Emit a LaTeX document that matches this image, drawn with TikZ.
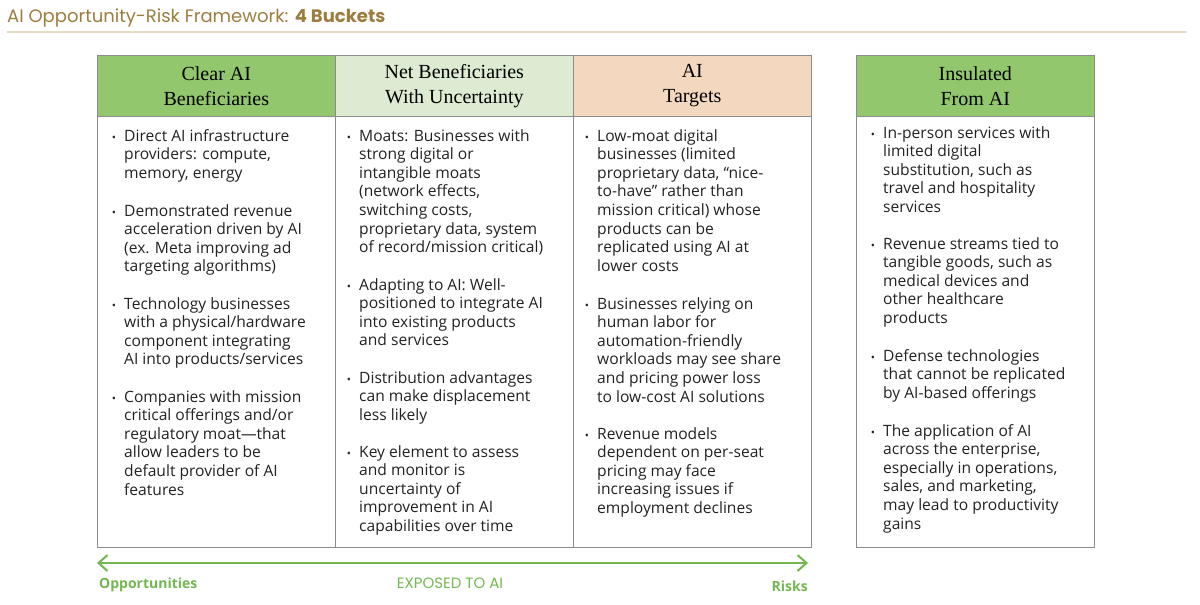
\documentclass[tikz,border=0pt]{standalone}
\usepackage{fontspec}
\setmainfont{Open Sans}
\newfontfamily\hdfont{Liberation Serif}
\newfontfamily\ttlfont{Poppins}
\usetikzlibrary{arrows.meta}
\definecolor{gA}{HTML}{93C76E}
\definecolor{gB}{HTML}{DEEBD3}
\definecolor{pC}{HTML}{F3D8BF}
\definecolor{arr}{HTML}{72B850}
\definecolor{gold}{HTML}{9C7D3E}
\definecolor{rule}{HTML}{E6DCC6}
\definecolor{txt}{HTML}{222222}
\tikzset{
 hd/.style={draw=black!45,line width=0.6pt,minimum width=238pt,minimum height=61pt,anchor=north west,align=center,font=\hdfont\fontsize{20}{25}\selectfont,inner sep=0pt},
 bd/.style={draw=black!45,line width=0.6pt,minimum width=238pt,anchor=north west,inner sep=0pt},
 bt/.style={anchor=north west,align=left,inner sep=0pt,text=txt,font=\fontsize{15.6}{18.6}\selectfont},
 bu/.style={anchor=center,inner sep=0pt,text=txt,font=\fontsize{11}{12}\selectfont}
}
\newcommand\bul[4]{\node[bu] (#1b) at (#2-10,#3+10) {\textbullet}; \node[bt] (#1) at (#2,#3) {#4};}
\begin{document}
\begin{tikzpicture}[x=1pt,y=-1pt]
\useasboundingbox (0,0) rectangle (1200,605);
\node[anchor=west,inner sep=0pt,text=gold,font=\ttlfont\fontsize{18}{20}\selectfont] (title) at (7,18) {AI Opportunity-Risk Framework: \textbf{4 Buckets}};
\draw[rule,line width=1.2pt] (7,32) -- (1187,32);
% bodies
\node[bd,minimum height=431pt] (b1) at (97,116) {};
\node[bd,minimum height=431pt] (b2) at (335,116) {};
\node[bd,minimum height=431pt] (b3) at (573,116) {};
\node[bd,minimum height=431pt] (b4) at (856,116) {};
\node[hd,fill=gA] (h1) at (97,55) {Clear AI\\Beneficiaries};
\node[hd,fill=gB] (h2) at (335,55) {Net Beneficiaries\\With Uncertainty};
\node[hd,fill=pC] (h3) at (573,55) {AI\\Targets};
\node[hd,fill=gA] (h4) at (856,55) {Insulated\\From AI};
% col1
\bul{a1}{124}{129}{Direct AI infrastructure\\providers: compute,\\memory, energy}
\bul{a2}{124}{204}{Demonstrated revenue\\acceleration driven by AI\\(ex. Meta improving ad\\targeting algorithms)}
\bul{a3}{124}{297}{Technology businesses\\with a physical/hardware\\component integrating\\AI into products/services}
\bul{a4}{124}{390}{Companies with mission\\critical offerings and/or\\regulatory moat---that\\allow leaders to be\\default provider of AI\\features}
% col2
\bul{c1}{359}{129}{Moats: Businesses with\\strong digital or\\intangible moats\\(network effects,\\switching costs,\\proprietary data, system\\of record/mission critical)}
\bul{c2}{359}{278}{Adapting to AI: Well-\\positioned to integrate AI\\into existing products\\and services}
\bul{c3}{359}{371}{Distribution advantages\\can make displacement\\less likely}
\bul{c4}{359}{445}{Key element to assess\\and monitor is\\uncertainty of\\improvement in AI\\capabilities over time}
% col3
\bul{d1}{597}{129}{Low-moat digital\\businesses (limited\\proprietary data, “nice-\\to-have” rather than\\mission critical) whose\\products can be\\replicated using AI at\\lower costs}
\bul{d2}{597}{297}{Businesses relying on\\human labor for\\automation-friendly\\workloads may see share\\and pricing power loss\\to low-cost AI solutions}
\bul{d3}{597}{427}{Revenue models\\dependent on per-seat\\pricing may face\\increasing issues if\\employment declines}
% col4
\bul{e1}{883}{126}{In-person services with\\limited digital\\substitution, such as\\travel and hospitality\\services}
\bul{e2}{883}{237}{Revenue streams tied to\\tangible goods, such as\\medical devices and\\other healthcare\\products}
\bul{e3}{883}{349}{Defense technologies\\that cannot be replicated\\by AI-based offerings}
\bul{e4}{883}{424}{The application of AI\\across the enterprise,\\especially in operations,\\sales, and marketing,\\may lead to productivity\\gains}
% arrow
\coordinate (L) at (97,563);
\coordinate (R) at (808,563);
\draw[arr,line width=2pt,{Straight Barb[length=9pt,width=16pt,line width=2pt]}-{Straight Barb[length=9pt,width=16pt,line width=2pt]}] (L) -- (R);
\node[anchor=west,inner sep=0pt,text=arr,font=\bfseries\fontsize{14}{15}\selectfont] (opp) at (99,585) {Opportunities};
\node[anchor=east,inner sep=0pt,text=arr,font=\bfseries\fontsize{14}{15}\selectfont] (risk) at (808,586) {Risks};
\node[inner sep=0pt,text=arr,font=\ttlfont\fontsize{15}{17}\selectfont] (exp) at (450,583) {EXPOSED TO AI};
\end{tikzpicture}
\end{document}
